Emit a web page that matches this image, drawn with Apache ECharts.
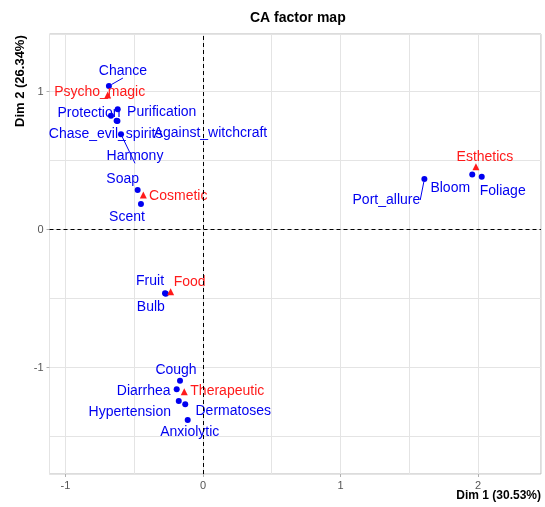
<!DOCTYPE html>
<html><head><meta charset="utf-8">
<script src="https://cdn.jsdelivr.net/npm/echarts@6/dist/echarts.min.js"></script>
<style>html,body{margin:0;padding:0;background:#fff}#c{width:545px;height:507px}</style>
</head><body><div id="c"></div>
<script>
// Row points (blue dots)
const rowNames = ["Chance","Purification","Protection","Chase_evil_spirits","Against_witchcraft","Harmony","Soap","Scent","Bloom","Foliage","Port_allure","Fruit","Bulb","Cough","Diarrhea","Hypertension","Dermatoses","Anxiolytic"];
const rowDim1 = [-0.684,-0.620,-0.669,-0.628,-0.622,-0.596,-0.475,-0.451,1.958,2.027,1.610,-0.276,-0.270,-0.167,-0.191,-0.176,-0.129,-0.111];
const rowDim2 = [1.040,0.871,0.824,0.788,0.786,0.690,0.286,0.185,0.399,0.383,0.366,-0.462,-0.465,-1.096,-1.158,-1.243,-1.267,-1.380];
// Column points (red triangles)
const colNames = ["Psycho_magic","Cosmetic","Esthetics","Food","Therapeutic"];
const colDim1 = [-0.693,-0.434,1.985,-0.235,-0.136];
const colDim2 = [0.975,0.250,0.455,-0.451,-1.176];
// Axis tick labels
const xTicks = [-1,0,1,2];
const yTicks = [-1,0,1];
const xRange = [-1.116, 2.458];
const yRange = [-1.772, 1.417];

// label placement (pixel offsets from the point, like ggrepel)
const labelOffsets = {
  Chance:[14,-15], Purification:[44,3], Protection:[-22,-3], Chase_evil_spirits:[-11,13],
  Against_witchcraft:[93,12], Harmony:[14,22], Soap:[-15,-11], Scent:[-14,13],
  Bloom:[-22,14], Foliage:[21,14], Port_allure:[-38,21], Fruit:[-15,-12], Bulb:[-15,13],
  Cough:[-4,-11], Diarrhea:[-33,2], Hypertension:[-49,11], Dermatoses:[48,7], Anxiolytic:[2,12],
  Psycho_magic:[-8,-3], Cosmetic:[35,1], Esthetics:[9,-10], Food:[19,-10], Therapeutic:[43,-1]
};
const guided = {Chance:1, Harmony:1, Port_allure:1};

const BLUE = '#0000f0', RED = '#ff1a1a';
const FONT = 'Liberation Sans, Arial, sans-serif';

function mk(names, d1, d2, color) {
  return names.map((n, i) => ({
    name: n, value: [d1[i], d2[i]],
    label: { offset: labelOffsets[n] || [0,0] },
    labelLine: { show: !!guided[n], lineStyle: { color: color, width: 1 } }
  }));
}

const chart = echarts.init(document.getElementById('c'));
const fmt = v => (Math.abs(v - Math.round(v)) < 1e-9 ? String(Math.round(v)) : '');

chart.setOption({
  animation: false,
  grid: { left: 49.5, right: 4, top: 34, bottom: 33, show: true, borderColor: '#b8b8b8', borderWidth: 1 },
  xAxis: [
    { type: 'value', min: xRange[0], max: xRange[1], minInterval: 0.5, maxInterval: 0.5,
      axisLine: { show: false, onZero: false }, axisTick: { show: false }, axisLabel: { show: false },
      splitLine: { show: true, lineStyle: { color: '#e4e4e4', width: 1 } } },
    { type: 'value', min: xRange[0], max: xRange[1], minInterval: 1, maxInterval: 1, position: 'bottom',
      axisLine: { show: false, onZero: false },
      axisTick: { show: true, length: 3, customValues: xTicks, lineStyle: { color: '#b0b0b0' } },
      axisLabel: { show: true, customValues: xTicks, formatter: fmt, color: '#555', fontSize: 11, margin: 6, fontFamily: FONT },
      splitLine: { show: false } }
  ],
  yAxis: [
    { type: 'value', min: yRange[0], max: yRange[1], minInterval: 0.5, maxInterval: 0.5,
      axisLine: { show: false, onZero: false }, axisTick: { show: false }, axisLabel: { show: false },
      splitLine: { show: true, lineStyle: { color: '#e4e4e4', width: 1 } } },
    { type: 'value', min: yRange[0], max: yRange[1], minInterval: 1, maxInterval: 1, position: 'left',
      axisLine: { show: false, onZero: false },
      axisTick: { show: true, length: 3, customValues: yTicks, lineStyle: { color: '#b0b0b0' } },
      axisLabel: { show: true, customValues: yTicks, formatter: fmt, color: '#555', fontSize: 11, margin: 6, fontFamily: FONT },
      splitLine: { show: false } }
  ],
  graphic: [
    { type: 'text', left: 295 - 45, top: 11, style: { text: 'CA factor map', font: 'bold 14px ' + FONT, fill: '#000' } },
    { type: 'text', right: 4, top: 490, style: { text: 'Dim 1 (30.53%)', font: 'bold 12px ' + FONT, fill: '#000' } },
    { type: 'text', x: 14, y: 127, rotation: Math.PI / 2, style: { text: 'Dim 2 (26.34%)', font: 'bold 13px ' + FONT, fill: '#000' } }
  ],
  series: [
    { type: 'scatter', xAxisIndex: 0, yAxisIndex: 0, symbol: 'circle', symbolSize: 6,
      itemStyle: { color: BLUE, opacity: 1 },
      label: { show: true, position: 'inside', formatter: '{b}', color: BLUE, fontSize: 14, fontFamily: FONT },
      data: mk(rowNames, rowDim1, rowDim2, BLUE),
      markLine: { silent: true, symbol: 'none', label: { show: false },
        lineStyle: { color: '#000', type: [4, 3], width: 1 },
        data: [{ xAxis: 0 }, { yAxis: 0 }] } },
    { type: 'scatter', xAxisIndex: 0, yAxisIndex: 0, symbol: 'triangle', symbolSize: 7,
      itemStyle: { color: RED, opacity: 1 },
      label: { show: true, position: 'inside', formatter: '{b}', color: RED, fontSize: 14, fontFamily: FONT },
      data: mk(colNames, colDim1, colDim2, RED) }
  ]
});
</script></body></html>
